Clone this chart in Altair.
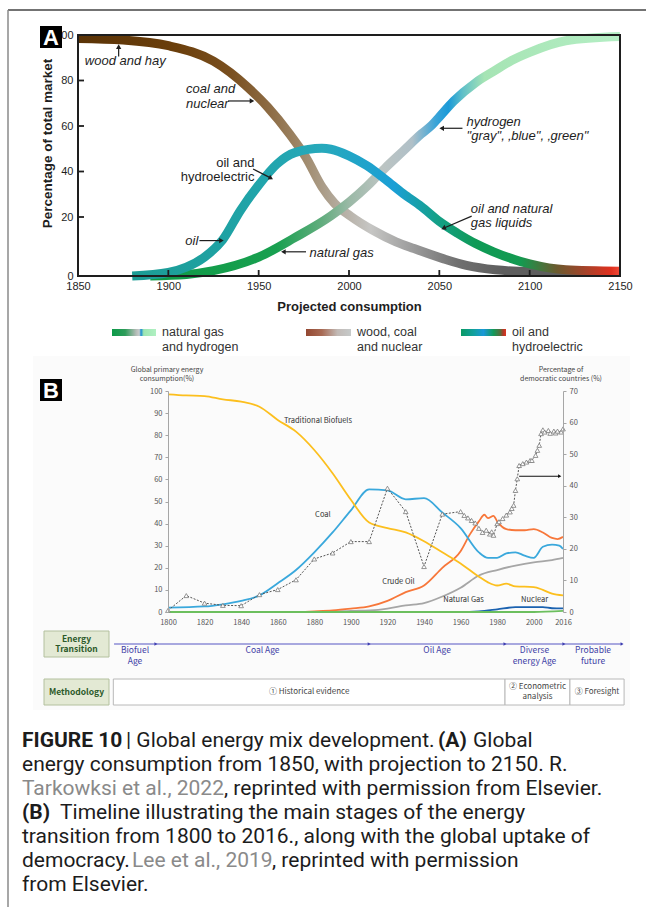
import altair as alt
import pandas as pd

# ---------------- Panel A: share of total market (%) ----------------
WOOD_YEARS = [1850, 1875, 1900, 1925, 1944, 1955, 1967, 1976, 1985, 1992, 2001, 2013, 2026, 2036, 2052, 2065, 2081, 2100, 2150]
WOOD_SHARE = [98.5, 97.8, 95.3, 88.5, 77.0, 68.3, 56.6, 46.4, 33.3, 26.0, 20.3, 15.6, 11.6, 9.3, 5.9, 3.6, 2.1, 1.5, 1.2]

OIL_YEARS = [1880, 1900, 1910, 1920, 1930, 1940, 1950, 1960, 1970, 1985, 1990, 2000, 2010, 2020, 2030, 2040, 2050, 2060, 2070, 2080, 2100, 2120, 2150]
OIL_SHARE = [0.0, 1.2, 3.0, 6.4, 12.2, 23.0, 34.0, 43.2, 48.3, 50.2, 49.8, 46.9, 42.5, 36.6, 30.3, 24.6, 18.5, 14.5, 11.0, 8.2, 4.1, 2.1, 1.6]

GAS_YEARS = [1890, 1910, 1925, 1950, 1970, 1990, 2000, 2010, 2015, 2020, 2030, 2040, 2046, 2050, 2058, 2070, 2080, 2090, 2100, 2120, 2150]
GAS_SHARE = [0.0, 0.5, 1.8, 6.4, 13.0, 20.5, 26.5, 33.5, 37.5, 41.5, 49.0, 56.5, 60.5, 64.0, 71.0, 79.0, 84.0, 88.8, 92.4, 97.5, 99.3]

A_TICK_YEARS = [1850, 1900, 1950, 2000, 2050, 2100, 2150]
A_TICK_SHARES = [0, 20, 40, 60, 80, 100]

# ---------------- Panel B: global primary energy consumption (%) ----------------
BIO_YEARS = [1800, 1810, 1820, 1830, 1840, 1850, 1860, 1870, 1880, 1890, 1900, 1910, 1920, 1930, 1940, 1950, 1960, 1970, 1975, 1980, 1985, 1990, 2000, 2005, 2010, 2016]
BIO = [98.5, 98.0, 97.7, 96.2, 95.2, 92.9, 86.9, 81.6, 73.3, 62.8, 50.8, 40.5, 38.0, 36.0, 32.0, 27.0, 22.0, 16.0, 13.4, 12.0, 12.8, 11.6, 11.3, 10.0, 8.3, 7.5]

COAL_YEARS = [1800, 1820, 1830, 1840, 1850, 1860, 1870, 1880, 1890, 1900, 1910, 1920, 1930, 1940, 1950, 1960, 1970, 1975, 1980, 1985, 1990, 1995, 2000, 2005, 2010, 2014, 2016]
COAL = [2.0, 2.5, 3.5, 5.0, 7.5, 13.0, 19.0, 27.0, 36.0, 46.0, 55.5, 55.0, 51.0, 51.5, 45.0, 38.0, 27.0, 24.5, 24.5, 26.5, 27.0, 25.5, 24.5, 29.5, 30.5, 30.0, 28.5]

CRUDE_YEARS = [1800, 1870, 1880, 1890, 1900, 1910, 1920, 1930, 1940, 1950, 1960, 1965, 1970, 1973, 1975, 1978, 1980, 1985, 1990, 1995, 2000, 2005, 2010, 2013, 2016]
CRUDE = [0.0, 0.0, 0.3, 0.7, 1.5, 2.5, 5.0, 9.0, 12.0, 20.0, 27.5, 35.0, 41.0, 44.0, 42.5, 43.5, 41.0, 37.5, 37.0, 37.0, 37.5, 36.0, 33.5, 33.0, 34.0]

NGAS_YEARS = [1800, 1880, 1900, 1915, 1920, 1930, 1940, 1950, 1960, 1970, 1980, 1990, 2000, 2010, 2016]
NGAS = [0.0, 0.0, 0.5, 1.0, 1.5, 3.0, 4.0, 7.0, 11.0, 16.5, 19.0, 21.0, 22.5, 23.5, 24.5]

NUC_YEARS = [1800, 1960, 1970, 1980, 1990, 2000, 2005, 2010, 2016]
NUC = [0.0, 0.0, 0.3, 1.2, 2.2, 2.2, 2.2, 1.7, 1.6]

RENEW_YEARS = [1800, 2000, 2016]
RENEW = [0.0, 0.0, 0.5]

# percentage of democratic countries (right axis)
DEMO_YEARS = [1800, 1810, 1820, 1830, 1840, 1850, 1860, 1870, 1880, 1890, 1900, 1910, 1920, 1930, 1940,
              1950, 1960, 1962, 1964, 1966, 1968, 1970, 1972, 1974, 1976, 1977, 1978, 1980, 1981, 1983,
              1985, 1987, 1988, 1989, 1990, 1991, 1992, 1994, 1996, 1998, 1999, 2001, 2002, 2003, 2004,
              2005, 2006, 2008, 2009, 2011, 2012, 2013, 2015, 2016]
DEMO = [0.5, 5.2, 2.8, 2.1, 2.0, 5.5, 7.1, 10.2, 16.8, 18.7, 22.3, 22.3, 39.2, 31.8, 14.4,
        31.0, 31.8, 30.6, 29.8, 29.0, 28.2, 26.5, 25.2, 25.9, 24.7, 25.4, 24.3, 28.0, 28.6, 29.6,
        30.7, 31.7, 32.8, 33.8, 38.5, 42.2, 46.4, 47.0, 47.5, 48.0, 48.0, 49.6, 51.2, 52.8, 56.5,
        57.7, 57.0, 57.5, 56.6, 57.3, 56.7, 57.3, 57.0, 58.0]

B_TICK_YEARS = [1800, 1820, 1840, 1860, 1880, 1900, 1920, 1940, 1960, 1980, 2000, 2016]
B_LEFT_TICKS = [0, 10, 20, 30, 40, 50, 60, 70, 80, 90, 100]
B_RIGHT_TICKS = [0, 10, 20, 30, 40, 50, 60, 70]

# energy-transition stages (years on the panel B time axis)
STAGE_BREAKS = [1770.5, 1793.4, 1910.0, 1984.3, 2016.5, 2048.3]
STAGE_NAMES = ["Biofuel\nAge", "Coal Age", "Oil Age", "Diverse\nenergy Age", "Probable\nfuture"]
METHOD_BREAKS = [1770.1, 1984.3, 2019.8, 2049.4]
METHOD_NAMES = ["\u2460 Historical evidence", "\u2461 Econometric\nanalysis", "\u2462 Foresight"]

# ---------------- styling ----------------
INK = "#1e1e1e"
FONT_A = "Liberation Sans"
FONT_B = "Noto Sans CJK KR"
FONT_CAP = "Roboto"
CAP_SIZE = 21

XA = alt.Scale(domain=[1850, 2150], range=[78, 620], nice=False, zero=False)
YA = alt.Scale(domain=[0, 20, 100], range=[276, 217, 35], nice=False, zero=False)
XB = alt.Scale(domain=[1800, 2016], range=[168, 563], nice=False, zero=False)
YB = alt.Scale(domain=[0, 100], range=[612, 391], nice=False, zero=False)
YB2 = alt.Scale(domain=[0, 70], range=[612, 391], nice=False, zero=False)


def grad(stops):
    return alt.LinearGradient(
        gradient="linear", x1=0, x2=1, y1=0, y2=0,
        stops=[alt.GradientStop(color=c, offset=round(o, 4)) for o, c in stops],
    )


def year_grad(first, last, stops):
    return grad([((y - first) / (last - first), c) for y, c in stops])


def px(field):
    return alt.X(f"{field}:Q", scale=None, axis=None)


def py(field):
    return alt.Y(f"{field}:Q", scale=None, axis=None)


layers = []

# page frame lines
frame_df = pd.DataFrame({"x0": [8, 8], "x1": [646, 8], "y0": [10, 10], "y1": [10, 907], "c": ["#444444", "#8a8a8a"]})
layers.append(
    alt.Chart(frame_df).mark_rule(strokeWidth=1.5).encode(
        x=px("x0"), x2="x1", y=py("y0"), y2="y1", color=alt.Color("c:N", scale=None)
    )
)

# ---- Panel A curves ----
wood_stops = [(1850, "#5a3306"), (1905, "#6b3f0c"), (1935, "#7a5020"), (1955, "#8c6a42"),
              (1975, "#a08a6c"), (1995, "#b4aca0"), (2012, "#c6c6c4"), (2035, "#9c9c9c"),
              (2060, "#707070"), (2085, "#5e5e5e"), (2150, "#5e5e5e")]
oil_stops = [(1880, "#1c9c94"), (1940, "#1fa3a6"), (1985, "#27a9bb"), (2025, "#1b9fd6"),
             (2048, "#15a08a"), (2070, "#0f9a56"), (2095, "#139a50"), (2115, "#6b5a2e"),
             (2130, "#a2442a"), (2145, "#e0301e"), (2150, "#f04a38")]
gas_stops = [(1890, "#0f9a46"), (1960, "#18a050"), (1985, "#62ad7e"), (2000, "#9ab9a6"),
             (2018, "#bcc4c2"), (2035, "#b0c0c8"), (2048, "#3aa4d8"), (2055, "#1b9ad8"),
             (2063, "#60c0c8"), (2075, "#a6e4b4"), (2150, "#b4eec4")]


def curve(years, shares, stops):
    df = pd.DataFrame({"year": years, "share": shares})
    return alt.Chart(df).mark_line(
        strokeWidth=9, strokeCap="butt", interpolate="monotone",
        stroke=year_grad(years[0], years[-1], stops),
    ).encode(x=alt.X("year:Q", scale=XA, axis=None), y=alt.Y("share:Q", scale=YA, axis=None))


layers.append(curve(WOOD_YEARS, WOOD_SHARE, wood_stops))
layers.append(curve(GAS_YEARS, GAS_SHARE, gas_stops))
layers.append(curve(OIL_YEARS, OIL_SHARE, oil_stops))

# plot frame + axes of panel A
axA_x = alt.Axis(orient="bottom", offset=276 - 907, values=A_TICK_YEARS, format="d", ticks=False,
                 domain=False, grid=False, labelFont=FONT_A, labelFontSize=11, labelColor=INK,
                 labelPadding=4, labelFlush=False, title="Projected consumption", titleFont=FONT_A,
                 titleFontSize=13, titleFontWeight="bold", titleColor=INK, titlePadding=9)
axA_y = alt.Axis(orient="left", offset=-78, values=A_TICK_SHARES, ticks=False, domain=False, grid=False,
                 labelFont=FONT_A, labelFontSize=11, labelColor=INK, labelPadding=5,
                 title="Percentage of total market", titleFont=FONT_A, titleFontSize=13.5,
                 titleFontWeight="bold", titleColor=INK, titleX=-31, titleY=143, titleAngle=270,
                 titleAlign="center", titleBaseline="middle")
box_df = pd.DataFrame({"x0": [1850], "x1": [2150], "y0": [0], "y1": [100]})
layers.append(
    alt.Chart(box_df).mark_rect(fill="transparent", stroke=INK, strokeWidth=2).encode(
        x=alt.X("x0:Q", scale=XA, axis=axA_x), x2="x1",
        y=alt.Y("y0:Q", scale=YA, axis=axA_y), y2="y1",
    )
)
# inward tick marks
layers.append(
    alt.Chart(pd.DataFrame({"year": A_TICK_YEARS[1:-1]})).mark_rule(color=INK, strokeWidth=1.8).encode(
        x=alt.X("year:Q", scale=XA, axis=None), y=alt.value(276), y2=alt.value(270)
    )
)
layers.append(
    alt.Chart(pd.DataFrame({"share": A_TICK_SHARES[1:-1]})).mark_rule(color=INK, strokeWidth=1.8).encode(
        y=alt.Y("share:Q", scale=YA, axis=None), x=alt.value(78), x2=alt.value(84)
    )
)

# annotations of panel A
italic_notes = pd.DataFrame({
    "label": ["wood and hay", "coal and", "nuclear", "oil", "natural gas", "hydrogen",
              "\"gray\", \u201ablue\", \u201agreen\"", "oil and natural", "gas liquids"],
    "year": [1853.8, 1909.8, 1909.8, 1909.4, 1978.1, 2065.1, 2065.1, 2067.4, 2067.4],
    "share": [88.7, 76.1, 69.7, 12.0, 7.7, 61.9, 55.7, 23.5, 17.9],
})
layers.append(
    alt.Chart(italic_notes).mark_text(align="left", baseline="middle", font=FONT_A, fontSize=13,
                                      fontStyle="italic", color=INK).encode(
        x=alt.X("year:Q", scale=XA, axis=None), y=alt.Y("share:Q", scale=YA, axis=None), text="label:N"
    )
)
plain_notes = pd.DataFrame({"label": ["oil and", "hydroelectric"], "year": [1947.7, 1947.7], "share": [43.7, 37.6]})
layers.append(
    alt.Chart(plain_notes).mark_text(align="right", baseline="middle", font=FONT_A, fontSize=13,
                                     color=INK).encode(
        x=alt.X("year:Q", scale=XA, axis=None), y=alt.Y("share:Q", scale=YA, axis=None), text="label:N"
    )
)
arrows_a = pd.DataFrame({
    "y0": [1872.5, 1933.0, 1946.9, 1917.2, 1976.2, 2062.8, 2067.9],
    "s0": [90.5, 71.0, 41.1, 12.0, 8.2, 59.0, 20.4],
    "y1": [1872.5, 1946.3, 1956.8, 1929.4, 1963.7, 2051.3, 2052.3],
    "s1": [94.9, 71.0, 37.1, 12.0, 8.2, 59.0, 16.2],
    "ang": [270, 0, 27, 0, 180, 180, 156],
})
layers.append(
    alt.Chart(arrows_a).mark_rule(color=INK, strokeWidth=1.2).encode(
        x=alt.X("y0:Q", scale=XA, axis=None), x2="y1",
        y=alt.Y("s0:Q", scale=YA, axis=None), y2="s1",
    )
)
layers.append(
    alt.Chart(arrows_a).mark_point(shape="triangle-right", filled=True, size=28, color=INK, opacity=1).encode(
        x=alt.X("y1:Q", scale=XA, axis=None), y=alt.Y("s1:Q", scale=YA, axis=None),
        angle=alt.Angle("ang:Q", scale=None),
    )
)

# legend of panel A
legend_items = [
    ("natural gas\nand hydrogen", 112, 156, [(0, "#0c9a48"), (0.3, "#2e9c5a"), (0.55, "#b5bcb8"), (0.62, "#c8cccc"),
                                            (0.66, "#1a8cd2"), (0.72, "#9ee6b2"), (1, "#b0f0c2")]),
    ("wood, coal\nand nuclear", 306, 351, [(0, "#944832"), (0.35, "#a86a54"), (0.7, "#c2bab6"), (1, "#c6caca")]),
    ("oil and\nhydroelectric", 461, 506, [(0, "#0a9a64"), (0.3, "#12a0a2"), (0.5, "#1a98d8"), (0.72, "#129a5a"),
                                          (0.88, "#5a6a3a"), (0.94, "#b03a26"), (1, "#e03422")]),
]
for label, x0, x1, stops in legend_items:
    sw = pd.DataFrame({"x0": [x0], "x1": [x1], "y0": [329], "y1": [336], "tx": [x1 + 6], "ty": [326], "t": [label]})
    layers.append(alt.Chart(sw).mark_rect(fill=grad(stops)).encode(x=px("x0"), x2="x1", y=py("y0"), y2="y1"))
    layers.append(
        alt.Chart(sw).mark_text(align="left", baseline="top", font=FONT_A, fontSize=12.5, color="#333333",
                                lineBreak="\n", lineHeight=15).encode(x=px("tx"), y=py("ty"), text="t:N")
    )

# ---- Panel B ----
bg = pd.DataFrame({"x0": [33], "x1": [630], "y0": [356], "y1": [710]})
layers.append(alt.Chart(bg).mark_rect(fill="#fbfbfb").encode(x=px("x0"), x2="x1", y=py("y0"), y2="y1"))

# panel letters (drawn after the panel B backdrop)
letters = pd.DataFrame({"x0": [40, 40], "x1": [62, 62], "y0": [26, 379], "y1": [48, 401],
                        "cx": [51, 51], "cy": [37.5, 390.5], "t": ["A", "B"]})
layers.append(alt.Chart(letters).mark_rect(color="black").encode(x=px("x0"), x2="x1", y=py("y0"), y2="y1"))
layers.append(
    alt.Chart(letters).mark_text(font=FONT_A, fontSize=22, fontWeight="bold", color="white",
                                 baseline="middle", align="center").encode(x=px("cx"), y=py("cy"), text="t:N")
)

axB_x = alt.Axis(orient="bottom", offset=612 - 907, values=B_TICK_YEARS, format="d", ticks=False, domain=False,
                 grid=False, labelFont=FONT_B, labelFontSize=7.5, labelColor="#555555", labelPadding=6,
                 labelFlush=False, title=None, zindex=1)
axB_y = alt.Axis(orient="left", offset=-168, values=B_LEFT_TICKS, tickSize=3, tickColor="#a6a6a6",
                 domainColor="#a6a6a6", grid=False, labelFont=FONT_B, labelFontSize=7.5,
                 labelColor="#555555", labelPadding=3, title=None, zindex=1)
axB_y2 = alt.Axis(orient="right", offset=-83, values=B_RIGHT_TICKS, tickSize=3, tickColor="#a6a6a6",
                  domainColor="#a6a6a6", grid=False, labelFont=FONT_B, labelFontSize=7.5,
                  labelColor="#555555", labelPadding=3, title=None, zindex=1)


def bline(years, vals, color, xaxis=None, yaxis=None, width=1.8):
    df = pd.DataFrame({"year": years, "v": vals})
    return alt.Chart(df).mark_line(color=color, strokeWidth=width, interpolate="monotone").encode(
        x=alt.X("year:Q", scale=XB, axis=xaxis), y=alt.Y("v:Q", scale=YB, axis=yaxis)
    )


layers.append(bline(NGAS_YEARS, NGAS, "#a6a6a6"))
layers.append(bline(NUC_YEARS, NUC, "#1b62b0"))
layers.append(bline(CRUDE_YEARS, CRUDE, "#f7773a"))
layers.append(bline(COAL_YEARS, COAL, "#3aa8dc"))
layers.append(bline(BIO_YEARS, BIO, "#fcbf1e", xaxis=axB_x, yaxis=axB_y))
layers.append(bline(RENEW_YEARS, RENEW, "#6cbf5e"))

demo_df = pd.DataFrame({"year": DEMO_YEARS, "pct": DEMO})
layers.append(
    alt.Chart(demo_df).mark_line(color="#555555", strokeWidth=1, strokeDash=[2, 1.5]).encode(
        x=alt.X("year:Q", scale=XB, axis=None), y=alt.Y("pct:Q", scale=YB2, axis=axB_y2)
    )
)
layers.append(
    alt.Chart(demo_df).mark_point(shape="triangle-up", size=22, filled=False, fill="white", fillOpacity=1,
                                  stroke="#7a7a7a", strokeWidth=0.8, opacity=1).encode(
        x=alt.X("year:Q", scale=XB, axis=None), y=alt.Y("pct:Q", scale=YB2, axis=None)
    )
)
# arrow pointing to the right axis
arrow_b = pd.DataFrame({"x0": [1992.0], "x1": [2014.2], "v": [43.0]})
layers.append(
    alt.Chart(arrow_b).mark_rule(color="#111111", strokeWidth=1.2).encode(
        x=alt.X("x0:Q", scale=XB, axis=None), x2="x1", y=alt.Y("v:Q", scale=YB2, axis=None)
    )
)
layers.append(
    alt.Chart(arrow_b).mark_point(shape="triangle-right", filled=True, size=14, color="#111111", opacity=1).encode(
        x=alt.X("x1:Q", scale=XB, axis=None), y=alt.Y("v:Q", scale=YB2, axis=None)
    )
)

series_labels = pd.DataFrame({
    "t": ["Traditional Biofuels", "Coal", "Crude Oil", "Natural Gas", "Nuclear"],
    "year": [1882.0, 1884.7, 1926.0, 1961.6, 2000.5],
    "v": [86.4, 43.7, 13.4, 5.3, 5.3],
})
layers.append(
    alt.Chart(series_labels).mark_text(font=FONT_B, fontSize=7.5, color="#333333", baseline="middle").encode(
        x=alt.X("year:Q", scale=XB, axis=None), y=alt.Y("v:Q", scale=YB, axis=None), text="t:N"
    )
)
axis_titles = pd.DataFrame({
    "t": ["Global primary energy", "consumption(%)", "Percentage of", "democratic countries (%)"],
    "x": [167, 167, 561, 561], "y": [370, 378.5, 370, 378.5],
})
layers.append(
    alt.Chart(axis_titles).mark_text(font=FONT_B, fontSize=7, color="#444444", baseline="middle").encode(
        x=px("x"), y=py("y"), text="t:N"
    )
)

# ---- timeline rows ----
row_heads = pd.DataFrame({"x0": [44, 44], "x1": [109, 109], "y0": [631, 679], "y1": [657, 705],
                          "cx": [76.5, 76.5], "cy": [634.5, 687.5], "t": ["Energy\nTransition", "Methodology"]})
layers.append(
    alt.Chart(row_heads).mark_rect(fill="#e3e9d4", stroke="#b3c09e", strokeWidth=1).encode(
        x=px("x0"), x2="x1", y=py("y0"), y2="y1"
    )
)
layers.append(
    alt.Chart(row_heads).mark_text(font=FONT_B, fontSize=8.5, fontWeight="bold", color="#2c5a2a",
                                   baseline="top", lineBreak="\n", lineHeight=10.5).encode(
        x=px("cx"), y=py("cy"), text="t:N"
    )
)

stage_df = pd.DataFrame({"s": [STAGE_BREAKS[0]], "e": [STAGE_BREAKS[-1]]})
layers.append(
    alt.Chart(stage_df).mark_rule(color="#5656c4", strokeWidth=1.2).encode(
        x=alt.X("s:Q", scale=XB, axis=None), x2="e", y=alt.value(644)
    )
)
layers.append(
    alt.Chart(pd.DataFrame({"b": STAGE_BREAKS[1:]})).mark_point(
        shape="triangle-right", filled=True, size=12, color="#3d3db0", opacity=1).encode(
        x=alt.X("b:Q", scale=XB, axis=None), y=alt.value(644)
    )
)
stage_mid = [(a + b) / 2 for a, b in zip(STAGE_BREAKS[:-1], STAGE_BREAKS[1:])]
layers.append(
    alt.Chart(pd.DataFrame({"m": stage_mid, "t": STAGE_NAMES})).mark_text(
        font=FONT_B, fontSize=8.5, color="#4141a6", baseline="top", lineBreak="\n", lineHeight=10.5).encode(
        x=alt.X("m:Q", scale=XB, axis=None), y=alt.value(646), text="t:N"
    )
)
method_df = pd.DataFrame({"s": METHOD_BREAKS[:-1], "e": METHOD_BREAKS[1:], "t": METHOD_NAMES,
                          "m": [(a + b) / 2 for a, b in zip(METHOD_BREAKS[:-1], METHOD_BREAKS[1:])],
                          "ty": [687.5, 682.5, 687.5]})
layers.append(
    alt.Chart(method_df).mark_rect(fill="white", stroke="#b8b8b8", strokeWidth=1).encode(
        x=alt.X("s:Q", scale=XB, axis=None), x2="e", y=alt.value(679), y2=alt.value(705)
    )
)
layers.append(
    alt.Chart(method_df).mark_text(font=FONT_B, fontSize=8, color="#444444", baseline="top",
                                   lineBreak="\n", lineHeight=10).encode(
        x=alt.X("m:Q", scale=XB, axis=None), y=py("ty"), text="t:N"
    )
)

# ---- caption ----
cap_regular = pd.DataFrame({
    "t": ["| Global energy mix development.", "Global",
          "energy consumption from 1850, with projection to 2150. R.",
          ", reprinted with permission from Elsevier.",
          "Timeline illustrating the main stages of the energy",
          "transition from 1800 to 2016., along with the global uptake of",
          "democracy.", ", reprinted with permission", "from Elsevier."],
    "x": [126, 473, 22, 224, 60, 22, 22, 272, 22],
    "y": [741, 741, 765, 789, 813, 837, 861, 861, 885],
})
cap_bold = pd.DataFrame({"t": ["FIGURE 10", "(A)", "(B)"], "x": [22, 438, 22], "y": [741, 741, 813]})
cap_link = pd.DataFrame({"t": ["Tarkowksi et al., 2022", "Lee et al., 2019"], "x": [22, 132], "y": [789, 861]})
for df, weight, color in [(cap_regular, "normal", "#1c1c1c"), (cap_bold, "bold", "#1c1c1c"), (cap_link, "normal", "#8a8a8a")]:
    layers.append(
        alt.Chart(df).mark_text(align="left", baseline="middle", font=FONT_CAP, fontSize=CAP_SIZE,
                                fontWeight=weight, color=color).encode(x=px("x"), y=py("y"), text="t:N")
    )

chart = alt.layer(*layers).resolve_scale(x="independent", y="independent").properties(
    width=646, height=907, autosize=alt.AutoSizeParams(type="none"), padding=0, background="white"
).configure_view(strokeWidth=0)

chart.save("out.html", embed_options={"renderer": "svg", "actions": False})
